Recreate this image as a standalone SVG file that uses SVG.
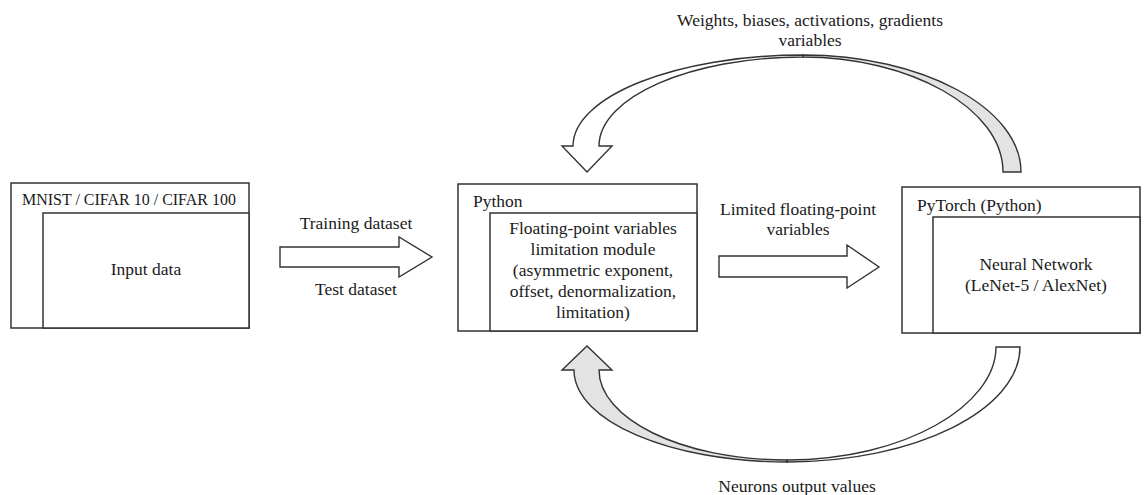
<svg xmlns="http://www.w3.org/2000/svg" width="1144" height="495" viewBox="0 0 1144 495">
<style>
.box{fill:#fff;stroke:#333;stroke-width:1.5}
.arr{fill:#fff;stroke:#333;stroke-width:1.4;stroke-linejoin:miter}
.grey{fill:#e3e3e3;stroke:#333;stroke-width:1.4}
text{font-family:"Liberation Serif","Times New Roman",serif;font-size:17.5px;fill:#1a1a1a}
.c{text-anchor:middle}
</style>
<rect width="1144" height="495" fill="#fff"/>
<g id="input-node">
<rect class="box" x="11" y="183" width="238" height="145"/>
<rect class="box" x="43" y="213" width="206" height="115"/>
<text x="22" y="205" textLength="214" lengthAdjust="spacingAndGlyphs">MNIST / CIFAR 10 / CIFAR 100</text>
<text class="c" x="146" y="275">Input data</text>
</g>
<g id="python-node">
<rect class="box" x="458" y="184" width="239" height="147"/>
<rect class="box" x="490" y="213" width="207" height="118"/>
<text x="473" y="207">Python</text>
<text class="c" x="593" y="234">Floating-point variables</text>
<text class="c" x="593" y="255">limitation module</text>
<text class="c" x="593" y="276">(asymmetric exponent,</text>
<text class="c" x="593" y="297">offset, denormalization,</text>
<text class="c" x="593" y="318">limitation)</text>
</g>
<g id="pytorch-node">
<rect class="box" x="902" y="187" width="238" height="146"/>
<rect class="box" x="933" y="217" width="207" height="116"/>
<text x="917" y="211">PyTorch (Python)</text>
<text class="c" x="1036" y="270">Neural Network</text>
<text class="c" x="1036" y="291">(LeNet-5 / AlexNet)</text>
</g>
<g id="connectors">
<polygon class="arr" points="280,247 399,247 399,237 432,257 399,277 399,267 280,267"/>
<text class="c" x="356" y="229">Training dataset</text>
<text class="c" x="356" y="295">Test dataset</text>
<polygon class="arr" points="719,256 847,256 847,245 879,267 847,288 847,277 719,277"/>
<text class="c" x="798" y="215">Limited floating-point</text>
<text class="c" x="798" y="235">variables</text>
<path class="grey" d="M803,55 C922,55 1021,108 1021,172 L1003,172 C1003,108 909,57 803,57 Z"/>
<path class="arr" d="M562,146 L573,146 C573,96 677,55 803,55 L803,57 C691,57 599,97 599,146 L612,146 L587,172 Z"/>
<text class="c" x="810" y="26">Weights, biases, activations, gradients</text>
<text class="c" x="810" y="46">variables</text>
<path class="arr" d="M787,462 C915,462 1020,410 1020,347 L996,347 C996,405 905,460 787,460 Z"/>
<path class="grey" d="M562,370 L574,370 C574,421 670,462 787,462 L787,460 C680,460 599,418 599,370 L612,370 L587,346 Z"/>
<text class="c" x="797" y="492">Neurons output values</text>
</g>
</svg>
